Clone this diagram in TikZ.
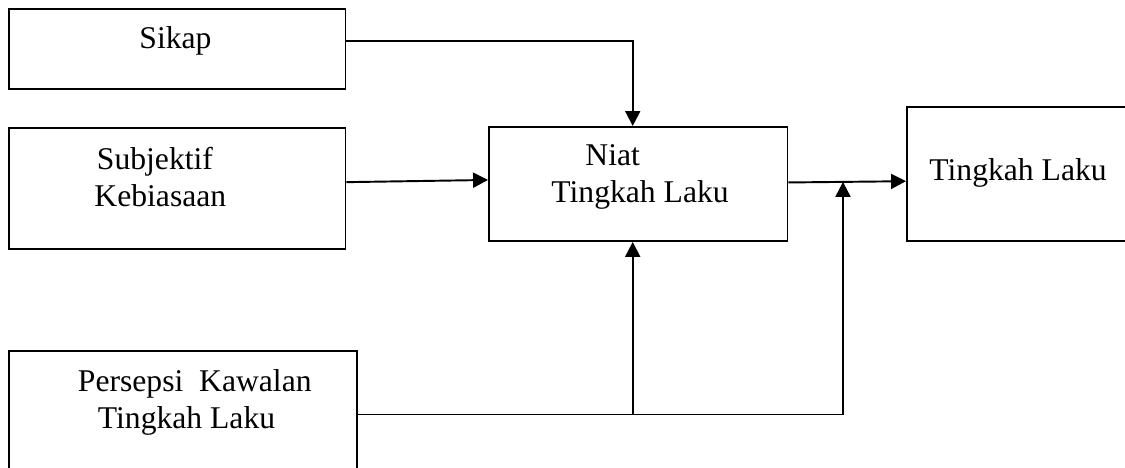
\documentclass[tikz,border=0pt]{standalone}
\usepackage{fontspec}
\setmainfont{Liberation Serif}
\usetikzlibrary{arrows.meta,positioning}
% box body: height, width, gap above the first line, lines
\newcommand{\celltext}[4]{\parbox[c][#1][t]{#2}{\raggedright\vspace*{#3}#4}}

\begin{document}
\begin{tikzpicture}[
  cell/.style={draw, line width=1.1pt, inner sep=0pt, font=\fontsize{18}{21}\selectfont},
  signal/.style={-{Triangle[length=8.5pt, width=8.5pt]}, line width=1.1pt},
  node distance=0.75cm
]
  \useasboundingbox (0,0) rectangle (22.5,-9.36);
  \clip (0,0) rectangle (22.5,-9.36);

  % Sikap
  \node[cell, anchor=north west] (sikap) at (0.16,-0.16)
    {\celltext{1.60cm}{6.73cm}{0.36cm}{\hspace*{2.61cm}Sikap}};

  % Subjektif Kebiasaan
  \node[cell, below=0.75cm of sikap] (subj)
    {\celltext{2.41cm}{6.73cm}{0.38cm}{\hspace*{1.76cm}Subjektif\\\hspace*{1.71cm}Kebiasaan}};

  % Niat Tingkah Laku
  \node[cell, anchor=north west] (niat) at (9.76,-2.52)
    {\celltext{2.28cm}{5.97cm}{0.36cm}{\hspace*{1.93cm}Niat\\\hspace*{1.25cm}Tingkah Laku}};

  % Tingkah Laku (runs off the right edge)
  \node[cell, anchor=north west] (tingkah) at (18.12,-2.13)
    {\celltext{2.67cm}{4.8cm}{1.03cm}{\hspace*{0.45cm}Tingkah Laku}};

  % Persepsi Kawalan Tingkah Laku (runs off the bottom edge)
  \node[cell, anchor=north west] (persepsi) at (0.16,-7.0)
    {\celltext{2.8cm}{6.96cm}{0.37cm}{\hspace*{1.38cm}Persepsi~~Kawalan\\\hspace*{1.78cm}Tingkah Laku}};

  % Arrows
  \draw[signal] ([yshift=0.15cm]sikap.east) -| ([xshift=-0.11cm]niat.north);
  \draw[signal] ([yshift=0.13cm]subj.east) -- ([yshift=0.08cm]niat.west);
  \draw[signal] ([yshift=0.03cm]niat.east) -- coordinate[pos=0.464] (join) ([yshift=-0.14cm]tingkah.west);

  % Persepsi feeds the intention and the behaviour
  \coordinate (pk) at ([yshift=0.13cm]persepsi.east);
  \coordinate (nb) at ([xshift=-0.11cm]niat.south);
  \draw[signal] (pk) -| (join);
  \draw[signal] (nb |- pk) -- (nb);

\end{tikzpicture}
\end{document}
